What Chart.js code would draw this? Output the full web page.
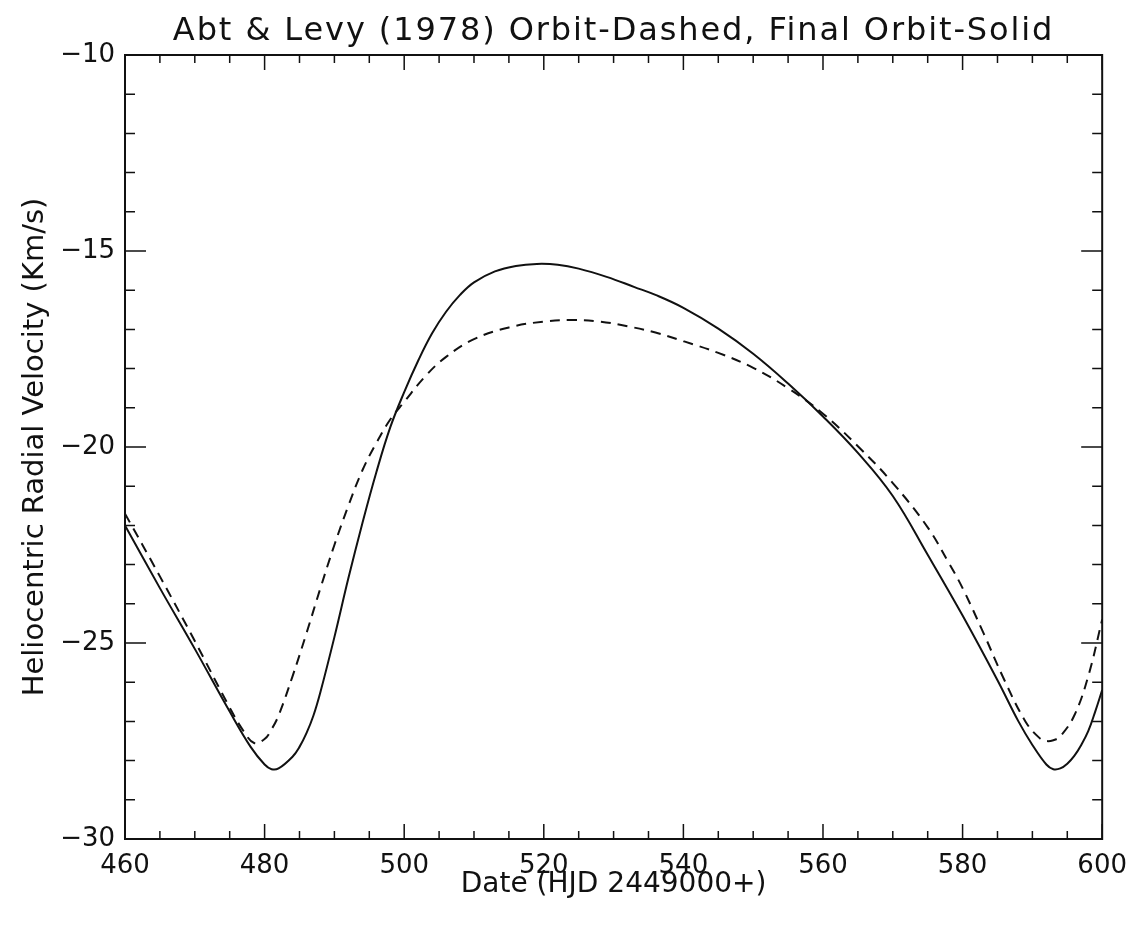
<!DOCTYPE html>
<html lang="en">
<head>
  <meta charset="UTF-8" />
  <title>Abt & Levy (1978) Orbit vs Final Orbit</title>
  <style>
    body {
      background: #fff;
      margin: 0;
    }
    canvas {
      display: block;
    }
  </style>
  <script src="https://cdn.jsdelivr.net/npm/chart.js"></script>
</head>
<body>
  <canvas id="orbitChart" width="1139" height="932"></canvas>

  <script>
    const chartTitle = 'Abt & Levy (1978) Orbit-Dashed, Final Orbit-Solid';

    // Final orbit (solid line)
    const finalDays = [460, 465, 470, 475, 478, 480, 481, 482, 484, 485, 486, 487, 488, 490, 492, 494, 496, 498,
      500, 502, 504, 506, 508, 510, 513, 516, 519, 522, 525, 529, 533, 536, 540, 545, 550, 555, 560, 565,
      570, 575, 580, 585, 588, 590, 592, 593, 594, 595, 596, 597, 598, 599, 600];
    const finalVel = [-22.0, -23.6, -25.15, -26.75, -27.65, -28.1, -28.22, -28.2, -27.9, -27.65, -27.3,
      -26.85, -26.25, -24.85, -23.35, -21.95, -20.65, -19.5, -18.6, -17.8, -17.1, -16.55, -16.12, -15.8,
      -15.52, -15.38, -15.33, -15.35, -15.45, -15.66, -15.92, -16.12, -16.45, -16.98, -17.62, -18.38, -19.22,
      -20.15, -21.25, -22.75, -24.3, -25.95, -27.0, -27.6, -28.1, -28.22, -28.2, -28.08, -27.88, -27.6,
      -27.25, -26.75, -26.2];

    // Abt & Levy (1978) orbit (dashed line)
    const abtDays = [460, 465, 470, 475, 477, 478.5, 480, 481, 482, 484, 486, 488, 490, 492, 494, 496, 498,
      500, 503, 506, 510, 515, 520, 524, 528, 532, 536, 540, 545, 550, 555, 560, 565, 570, 575,
      578, 580, 583, 586, 589, 591, 592, 593, 594, 596, 598, 600];
    const abtVel = [-21.7, -23.3, -24.95, -26.65, -27.25, -27.55, -27.45, -27.2, -26.85, -25.85, -24.75,
      -23.6, -22.5, -21.5, -20.6, -19.9, -19.3, -18.85, -18.2, -17.7, -17.25, -16.95, -16.8, -16.76,
      -16.8, -16.92, -17.08, -17.3, -17.6, -17.98, -18.5, -19.15, -19.98, -20.92, -22.05, -22.95, -23.6,
      -24.75, -25.95, -27.0, -27.42, -27.5, -27.48, -27.38, -26.85, -25.85, -24.4];

    // axis ranges and tick steps
    const xMin = 460, xMax = 600, xMajor = 20, xMinor = 5;
    const yMin = -30, yMax = -10, yMajor = 5, yMinor = 1;

    const ink = '#111';
    const fontFamily = '"DejaVu Sans", sans-serif';

    function toPoints(xs, ys) {
      return xs.map((d, i) => ({ x: d, y: ys[i] }));
    }

    // frame round the plot, inward ticks on all four sides, and the title over the plot box
    const frameTicks = {
      id: 'frameTicks',
      afterDatasetsDraw(chart) {
        const { ctx, chartArea: a, scales: { x, y } } = chart;
        ctx.save();
        ctx.strokeStyle = ink;
        ctx.lineWidth = 2;
        ctx.strokeRect(a.left, a.top, a.right - a.left, a.bottom - a.top);
        ctx.lineWidth = 1.5;
        ctx.beginPath();
        for (let v = xMin; v <= xMax; v += xMinor) {
          const px = x.getPixelForValue(v);
          const len = (v - xMin) % xMajor === 0 ? 15 : 8;
          ctx.moveTo(px, a.bottom); ctx.lineTo(px, a.bottom - len);
          ctx.moveTo(px, a.top); ctx.lineTo(px, a.top + len);
        }
        for (let v = yMin; v <= yMax; v += yMinor) {
          const py = y.getPixelForValue(v);
          const len = (v - yMin) % yMajor === 0 ? 21 : 10;
          ctx.moveTo(a.left, py); ctx.lineTo(a.left + len, py);
          ctx.moveTo(a.right, py); ctx.lineTo(a.right - len, py);
        }
        ctx.stroke();

        ctx.fillStyle = ink;
        ctx.font = '32px ' + fontFamily;
        ctx.letterSpacing = '1.9px';
        ctx.textAlign = 'center';
        ctx.textBaseline = 'alphabetic';
        ctx.fillText(chartTitle, (a.left + a.right) / 2, a.top - 15);
        ctx.restore();
      }
    };

    const ctx = document.getElementById('orbitChart').getContext('2d');
    const chart = new Chart(ctx, {
      type: 'line',
      data: {
        datasets: [
          {
            label: 'Final Orbit',
            data: toPoints(finalDays, finalVel),
            borderColor: ink,
            borderWidth: 2,
            pointRadius: 0,
            fill: false,
            tension: 0.4
          },
          {
            label: 'Abt & Levy (1978) Orbit',
            data: toPoints(abtDays, abtVel),
            borderColor: ink,
            borderWidth: 2,
            borderDash: [10, 7],
            pointRadius: 0,
            fill: false,
            tension: 0.4
          }
        ]
      },
      options: {
        responsive: false,
        animation: false,
        layout: { padding: { left: 0, right: 36, top: 55, bottom: 0 } },
        scales: {
          x: {
            type: 'linear',
            min: xMin,
            max: xMax,
            grid: { display: false, drawTicks: false },
            border: { display: false },
            ticks: {
              stepSize: xMajor,
              color: ink,
              padding: 12,
              font: { family: fontFamily, size: 26 }
            },
            title: {
              display: true,
              text: 'Date (HJD 2449000+)',
              color: ink,
              font: { family: fontFamily, size: 28 },
              padding: { top: 0, bottom: 30 }
            },
            afterFit(scale) { scale.height = 93; }
          },
          y: {
            min: yMin,
            max: yMax,
            grid: { display: false, drawTicks: false },
            border: { display: false },
            ticks: {
              stepSize: yMajor,
              color: ink,
              padding: 10,
              font: { family: fontFamily, size: 26 },
              callback: v => String(v).replace('-', '\u2212')
            },
            title: {
              display: true,
              text: 'Heliocentric Radial Velocity (Km/s)',
              color: ink,
              font: { family: fontFamily, size: 29 },
              padding: { top: 17.6, bottom: 0 }
            },
            afterFit(scale) { scale.width = 125; }
          }
        },
        plugins: {
          legend: { display: false },
          tooltip: { enabled: false },
          title: { display: false }
        }
      },
      plugins: [frameTicks]
    });
  </script>
</body>
</html>
